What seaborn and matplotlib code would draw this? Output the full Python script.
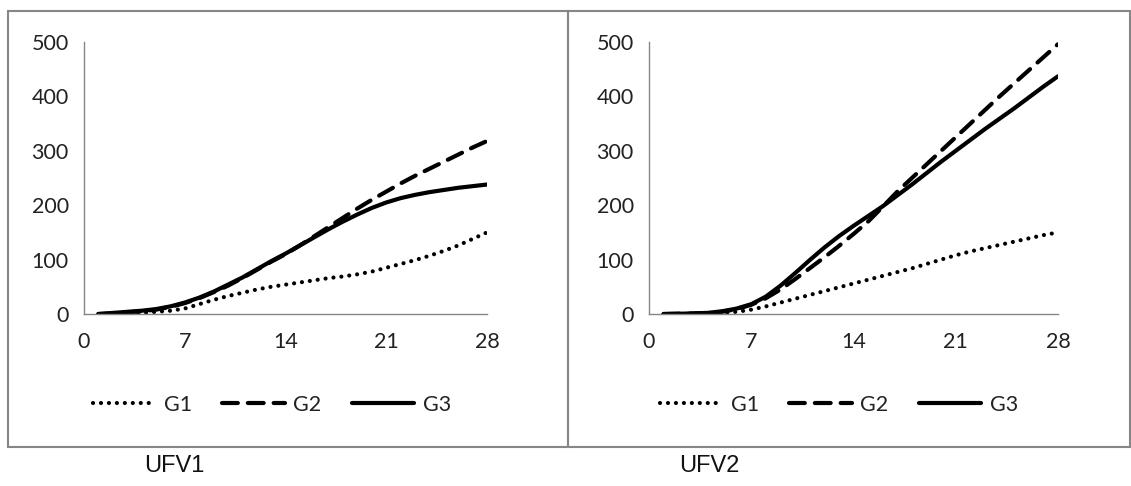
import numpy as np
import pandas as pd
import matplotlib
matplotlib.use("Agg")
import matplotlib.pyplot as plt
import seaborn as sns
from matplotlib.patches import Rectangle
from matplotlib.lines import Line2D

sns.set_theme(style="white")
plt.rcParams['font.family'] = ['Lato', 'DejaVu Sans']

days = list(range(1, 29))
series_names = ["G1", "G2", "G3"]
panel_titles = ["UFV1", "UFV2"]
x_ticks = [0, 7, 14, 21, 28]
y_ticks = [0, 100, 200, 300, 400, 500]

ufv1_g1 = [0, 0.5, 1, 2, 4, 6, 10, 18, 26, 33, 39, 45, 50, 54, 58, 62, 66, 69, 73, 78, 85,
           92, 99, 107, 116, 126, 138, 150]
ufv1_g2 = [0, 1, 3, 5, 8, 13, 20, 29, 40, 52, 66, 81, 96, 110, 126, 143, 160, 177, 194, 210,
           225, 240, 254, 267, 280, 293, 306, 318]
ufv1_g3 = [0, 2, 4, 6, 9, 14, 21, 30, 41, 54, 67, 82, 97, 111, 126, 141, 156, 170, 183, 195,
           205, 213, 219, 224, 228, 232, 235, 238]

ufv2_g1 = [0, 0, 0.5, 1, 2, 4, 8, 14, 21, 28, 35, 42, 49, 56, 63, 70, 77, 84, 92, 100, 108,
           115, 121, 127, 133, 139, 145, 150]
ufv2_g2 = [0, 0.5, 1, 2, 4, 9, 17, 29, 45, 64, 84, 104, 125, 147, 170, 197, 225, 250, 275,
           300, 325, 350, 375, 400, 424, 448, 472, 496]
ufv2_g3 = [0, 0.5, 1, 2, 5, 10, 18, 32, 52, 75, 99, 122, 143, 162, 180, 198, 218, 238, 259,
           280, 300, 320, 340, 359, 378, 398, 418, 437]

panels = [
    {"G1": ufv1_g1, "G2": ufv1_g2, "G3": ufv1_g3},
    {"G1": ufv2_g1, "G2": ufv2_g2, "G3": ufv2_g3},
]

styles = {
    "G1": dict(linestyle=(0, (0.01, 1.9)), dash_capstyle="round", linewidth=3.0),
    "G2": dict(linestyle=(0, (3.8, 2.4)), dash_capstyle="round", linewidth=3.0),
    "G3": dict(linestyle="-", linewidth=3.0),
}

W, H = 1131, 486
fig = plt.figure(figsize=(W / 100, H / 100), dpi=100)

# panel borders
border_col = "#868686"
for (x0, x1) in [(8, 568), (568, 1130)]:
    fig.add_artist(Rectangle((x0 / W, 1 - 447 / H), (x1 - x0) / W, (447 - 11) / H,
                             transform=fig.transFigure, fill=False,
                             edgecolor=border_col, linewidth=1.5))

axes_px = [(84, 487), (649, 1058)]
legend_cx = [272, 839]
label_x = [174, 709]
axis_col = "#868686"

for i, (data, (l, r)) in enumerate(zip(panels, axes_px)):
    ax = fig.add_axes([l / W, 1 - 314 / H, (r - l) / W, (314 - 42) / H])
    df = pd.DataFrame({"day": days, **data})
    for name in series_names:
        sns.lineplot(data=df, x="day", y=name, ax=ax, color="black", **styles[name])
    ax.set_xlim(0, 28)
    ax.set_ylim(0, 500)
    ax.set_xticks(x_ticks)
    ax.set_yticks(y_ticks)
    ax.set_xlabel("")
    ax.set_ylabel("")
    for s in ["top", "right"]:
        ax.spines[s].set_visible(False)
    for s in ["left", "bottom"]:
        ax.spines[s].set_color(axis_col)
        ax.spines[s].set_linewidth(1.0)
    ax.tick_params(axis="both", which="major", direction="out", length=6, width=1.0,
                   color=axis_col, labelsize=15.5, labelcolor="#222222")
    ax.tick_params(axis="x", pad=7)
    ax.tick_params(axis="y", pad=5)
    ax.patch.set_alpha(0)

    handles = [Line2D([0], [0], color="black", **styles[n]) for n in series_names]
    fig.legend(handles, series_names, loc="center",
               bbox_to_anchor=(legend_cx[i] / W, 1 - 405 / H), ncol=3, frameon=False,
               fontsize=15.5, handlelength=2.9, handletextpad=0.4, columnspacing=1.4,
               labelcolor="#222222")

    fig.text(label_x[i] / W, 1 - 466 / H, panel_titles[i], ha="center", va="center",
             fontsize=17, family="Liberation Sans", color="#111111")

fig.savefig("out.png", dpi=100)
